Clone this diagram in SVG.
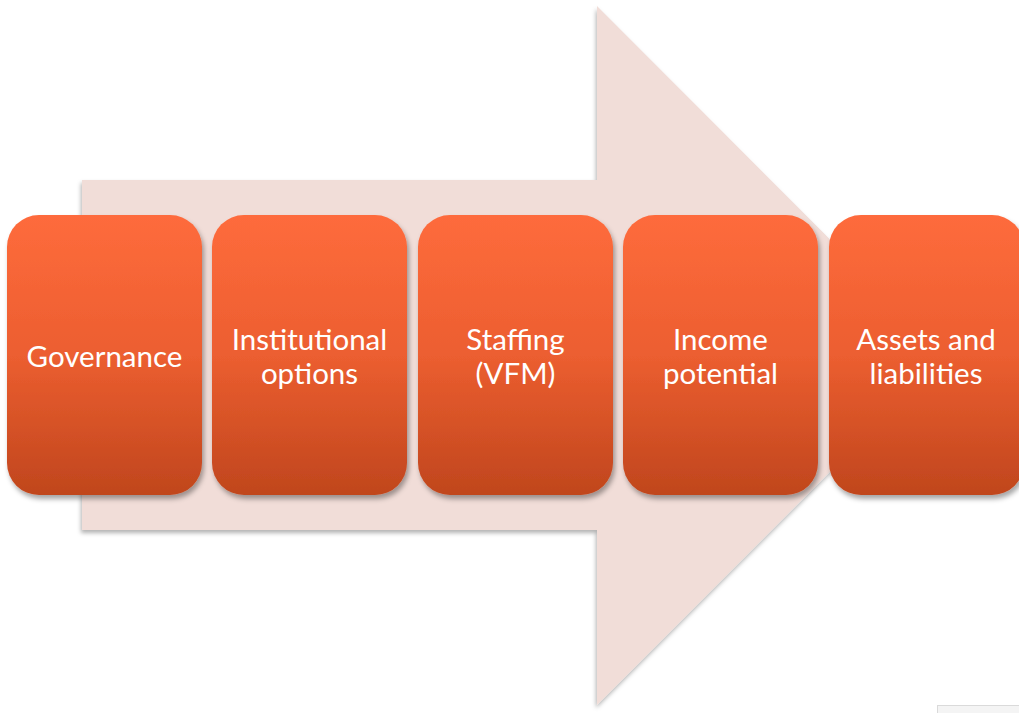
<svg xmlns="http://www.w3.org/2000/svg" width="1019" height="713" viewBox="0 0 1019 713">
  <defs>
    <linearGradient id="boxFill" x1="0" y1="0" x2="0" y2="1">
      <stop offset="0" stop-color="#FE6B3C"/>
      <stop offset="0.5" stop-color="#EC5E30"/>
      <stop offset="1" stop-color="#C0461D"/>
    </linearGradient>
    <filter id="shadow" x="-10%" y="-10%" width="130%" height="130%">
      <feDropShadow dx="2" dy="4" stdDeviation="2.5" flood-color="#000" flood-opacity="0.35"/>
    </filter>
    <filter id="arrowShadow" x="-5%" y="-5%" width="115%" height="115%">
      <feDropShadow dx="-1" dy="3" stdDeviation="2" flood-color="#000" flood-opacity="0.3"/>
    </filter>
  </defs>
  <style>
    .box { fill: url(#boxFill); filter: url(#shadow); }
    .label { font-family: Lato, "Open Sans", "Liberation Sans", sans-serif; font-size: 29.5px; fill: #FFFFFF; text-anchor: middle; }
  </style>
  <rect width="1019" height="713" fill="#FFFFFF"/>

  <!-- large background arrow -->
  <path id="arrow" d="M82,180 L597,180 L597,6 L946,355.5 L597,705 L597,530 L82,530 Z" fill="#F1DDD8" filter="url(#arrowShadow)"/>

  <!-- small tab at lower right -->
  <rect x="937.5" y="705.5" width="90" height="20" fill="#F4F4F4" stroke="#DADADA" stroke-width="1"/>

  <g id="connectors"/>

  <g id="node-governance">
    <rect class="box" x="7" y="215" width="195" height="280" rx="32" ry="32"/>
    <text class="label" x="104.5" y="367">Governance</text>
  </g>
  <g id="node-institutional">
    <rect class="box" x="212" y="215" width="195" height="280" rx="32" ry="32"/>
    <text class="label" x="309.5" y="350">Institutional</text>
    <text class="label" x="309.5" y="384">options</text>
  </g>
  <g id="node-staffing">
    <rect class="box" x="418" y="215" width="195" height="280" rx="32" ry="32"/>
    <text class="label" x="515.5" y="350">Staffing</text>
    <text class="label" x="515.5" y="384">(VFM)</text>
  </g>
  <g id="node-income">
    <rect class="box" x="623" y="215" width="195" height="280" rx="32" ry="32"/>
    <text class="label" x="720.5" y="350">Income</text>
    <text class="label" x="720.5" y="384">potential</text>
  </g>
  <g id="node-assets">
    <rect class="box" x="829" y="215" width="195" height="280" rx="32" ry="32"/>
    <text class="label" x="926" y="350">Assets and</text>
    <text class="label" x="926" y="384">liabilities</text>
  </g>
</svg>
